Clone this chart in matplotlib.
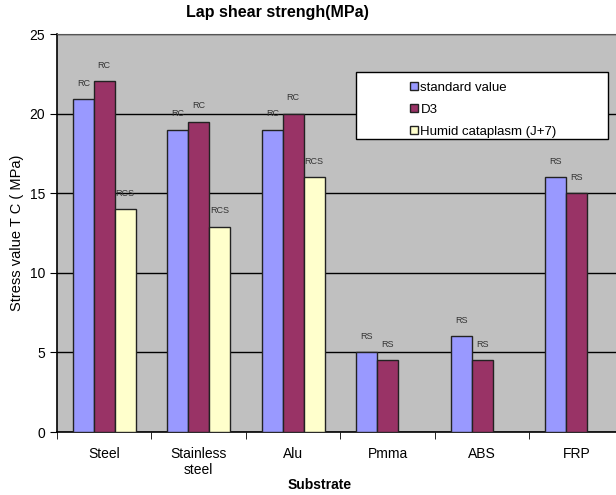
import matplotlib
matplotlib.use('Agg')
import matplotlib.pyplot as plt
from matplotlib.patches import Rectangle
import numpy as np

substrates = ['Steel', 'Stainless\nsteel', 'Alu', 'Pmma', 'ABS', 'FRP']
standard = [20.9, 19.0, 19.0, 5.0, 6.0, 16.0]
d3 = [22.05, 19.5, 20.0, 4.5, 4.5, 15.0]
humid = [14.0, 12.9, 16.0, np.nan, np.nan, np.nan]

lab_standard = ['RC', 'RC', 'RC', 'RS', 'RS', 'RS']
lab_d3 = ['RC', 'RC', 'RC', 'RS', 'RS', 'RS']
lab_humid = ['RCS', 'RCS', 'RCS', '', '', '']

plt.rcParams['font.family'] = ['Liberation Sans', 'DejaVu Sans']

fig = plt.figure(figsize=(6.16, 4.95), dpi=100)
ax = fig.add_axes([57 / 616, 1 - 432 / 495, 567 / 616, 398 / 495])
ax.set_facecolor('#C0C0C0')

x = np.arange(len(substrates))
w = 0.222
series = [
    (standard, lab_standard, '#9999FF', 'standard value', -w),
    (d3, lab_d3, '#993366', 'D3', 0),
    (humid, lab_humid, '#FFFFCC', 'Humid cataplasm (J+7)', w),
]
for vals, labs, col, name, off in series:
    ax.bar(x + off, vals, width=w, color=col, edgecolor='#222222',
           linewidth=1.0, label=name, zorder=3)
    for xi, v, lab in zip(x, vals, labs):
        if lab and not np.isnan(v):
            ax.text(xi + off, v + 1.0, lab, ha='center', va='center',
                    fontsize=6.5, color='#333333', zorder=4)

ax.set_xlim(-0.5, 5.5)
ax.set_ylim(0, 25)
ax.set_yticks([0, 5, 10, 15, 20, 25])
ax.yaxis.grid(True, color='black', linewidth=1.0, zorder=1)
ax.set_axisbelow(True)
ax.set_xticks(x)
ax.set_xticklabels(substrates, fontsize=10)
ax.set_xticks(np.arange(-0.5, 6, 1), minor=True)
ax.tick_params(axis='x', which='major', length=0, pad=11)
ax.tick_params(axis='x', which='minor', length=5, direction='out')
ax.tick_params(axis='y', length=5, direction='out', labelsize=10)
for s in ['left', 'bottom']:
    ax.spines[s].set_color('black')
    ax.spines[s].set_linewidth(1.2)
ax.spines['top'].set_color('#555555')
ax.spines['right'].set_visible(False)

fig.text(277 / 616, 1 - 13 / 495, 'Lap shear strengh(MPa)', ha='center',
         va='center', fontsize=11.5, fontweight='bold')
fig.text(320 / 616, 1 - 485 / 495, 'Substrate', ha='center', va='center',
         fontsize=10, fontweight='bold')
ax.set_ylabel('Stress value T C ( MPa)', fontsize=10.5, labelpad=4)

# legend box drawn separately, entries sit right of its left edge
box = Rectangle((356 / 616, 1 - 139 / 495), 252 / 616, 67 / 495,
                transform=fig.transFigure, facecolor='white',
                edgecolor='black', linewidth=1.0, zorder=5)
fig.patches.append(box)
leg = fig.legend(loc='upper left', bbox_to_anchor=(398 / 616, 1 - 70 / 495),
                 fontsize=9.5, frameon=False, handlelength=0.6,
                 handleheight=0.6, handletextpad=0.2, borderpad=0.4,
                 labelspacing=0.75)
leg.set_zorder(6)

plt.savefig('out.png', dpi=100)
